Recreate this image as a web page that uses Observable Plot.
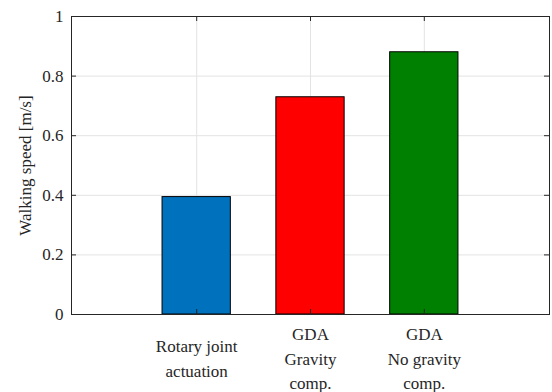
<!DOCTYPE html>
<html>
<head>
<meta charset="utf-8">
<script src="https://cdn.jsdelivr.net/npm/d3@7"></script>
<script src="https://cdn.jsdelivr.net/npm/@observablehq/plot@0.6"></script>
<style>
  html, body { margin: 0; padding: 0; background: #fff; }
  #chart { width: 552px; height: 392px; }
  html body #chart svg text, html body #chart svg tspan { font-family: "Liberation Serif", serif !important; }
</style>
</head>
<body>
<div id="chart"></div>
<script>
const categories = ["Rotary joint\nactuation", "GDA\nGravity\ncomp.", "GDA\nNo gravity\ncomp."];
const positions = [1, 2, 3];
const speeds = [0.394, 0.729, 0.880];
const colors = ["#0072BD", "#FF0000", "#008000"];
const yTicks = [0, 0.2, 0.4, 0.6, 0.8, 1];
const yTickLabels = ["0", "0.2", "0.4", "0.6", "0.8", "1"];
const yLabel = "Walking speed [m/s]";
const barWidth = 0.6;

const data = categories.map((c, i) => ({label: c, pos: positions[i], speed: speeds[i], color: colors[i]}));

const W = 552, H = 392, mL = 71, mR = 3, mT = 16, mB = 78;
const frameW = W - mL - mR, frameH = H - mT - mB, tickLen = 5;
const ink = "#262626";
const gridColor = "#e3e3e3";
const serif = "Liberation Serif";

const chart = Plot.plot({
  width: W,
  height: H,
  marginLeft: mL,
  marginRight: mR,
  marginTop: mT,
  marginBottom: mB,
  style: {fontSize: "17px", color: ink, background: "#fff"},
  x: {type: "linear", domain: [-0.1, 4.1], axis: null},
  y: {domain: [0, 1], axis: null},
  color: {type: "identity"},
  marks: [
    Plot.gridY(yTicks, {stroke: gridColor, strokeOpacity: 1}),
    Plot.gridX(positions, {stroke: gridColor, strokeOpacity: 1}),
    Plot.rect(data, {
      x1: d => d.pos - barWidth / 2,
      x2: d => d.pos + barWidth / 2,
      y1: 0,
      y2: "speed",
      fill: "color",
      stroke: "#000",
      strokeWidth: 1
    }),
    Plot.tickY(yTicks, {y: d => d, insetRight: frameW - tickLen, stroke: ink}),
    Plot.tickY(yTicks, {y: d => d, insetLeft: frameW - tickLen, stroke: ink}),
    Plot.tickX(positions, {x: d => d, insetTop: frameH - tickLen, stroke: ink}),
    Plot.tickX(positions, {x: d => d, insetBottom: frameH - tickLen, stroke: ink}),
    Plot.axisY(yTicks, {anchor: "left", tickSize: 0, tickPadding: 8, fontSize: 17, fontFamily: serif, color: ink, label: null, tickFormat: d => yTickLabels[yTicks.indexOf(d)]}),
    Plot.text(data, {
      x: "pos",
      text: "label",
      frameAnchor: "bottom",
      dy: 42,
      lineAnchor: "middle",
      lineHeight: 1.47,
      fontSize: 17,
      fontFamily: serif,
      fill: ink
    }),
    Plot.text([yLabel], {
      text: d => d,
      frameAnchor: "left",
      textAnchor: "middle",
      lineAnchor: "middle",
      dx: -46,
      rotate: -90,
      fontSize: 17,
      fontFamily: serif,
      fill: ink
    }),
    Plot.frame({stroke: ink, strokeWidth: 1})
  ]
});

d3.select(chart).style("font-family", serif, "important");
d3.select(chart).selectAll("text, tspan, g").style("font-family", serif, "important");
document.getElementById("chart").appendChild(chart);
</script>
</body>
</html>
